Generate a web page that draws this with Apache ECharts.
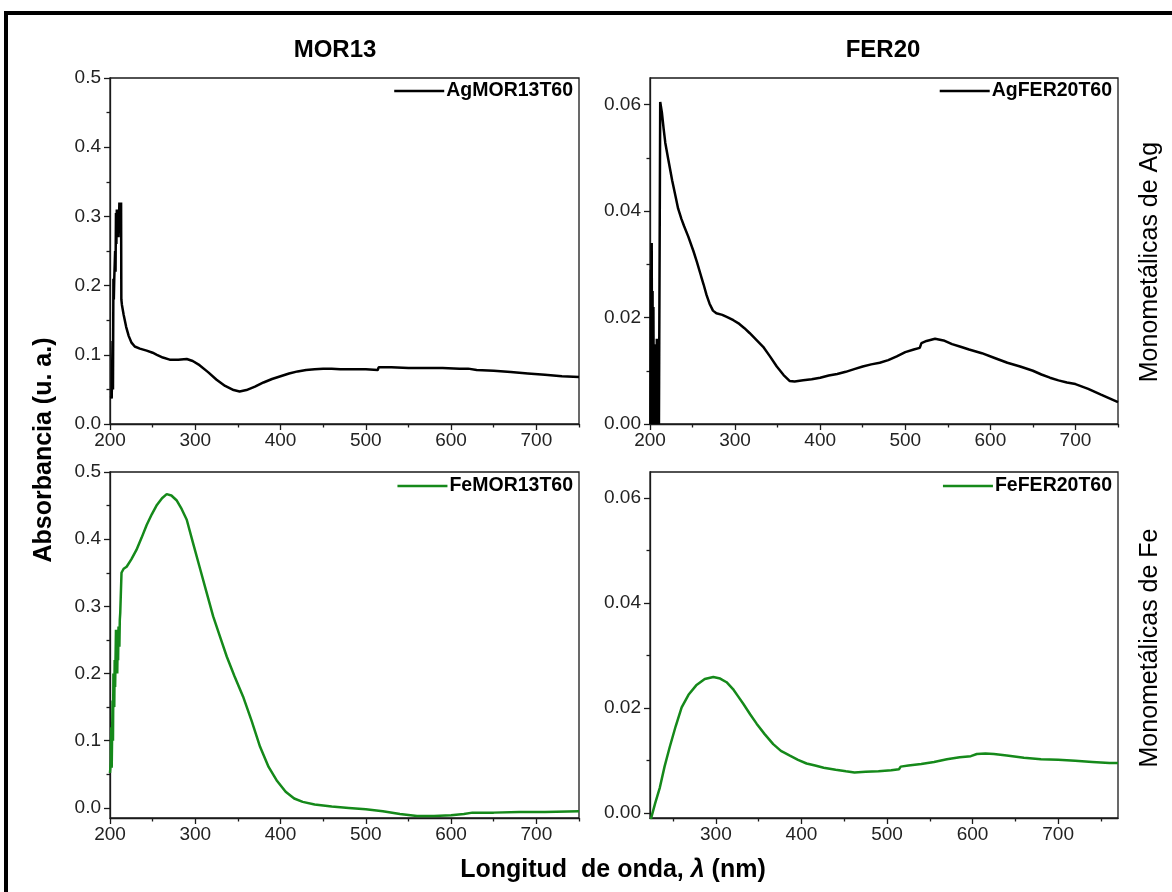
<!DOCTYPE html>
<html>
<head>
<meta charset="utf-8">
<script src="https://cdn.jsdelivr.net/npm/echarts@6/dist/echarts.min.js"></script>
<style>
html,body{margin:0;padding:0;background:#fff;}
#c{width:1172px;height:892px;}
</style>
</head>
<body>
<div id="c"></div>
<script>
// ---------- data ----------
const agMorX = [201,202,203,203.5,204,204.5,205,206,206.5,207,207.5,208,209,209.5,210,211,211.5,212,212.5,213,213.3,214,216,219,222,225,229,235,243,250,255,262,270,280,290,297,305,315,325,335,345,352,360,370,380,390,400,410,420,430,440,450,460,470,480,490,500,514,515,530,550,570,590,610,620,630,650,670,690,710,730,750];
const agMorY = [0.04,0.037,0.12,0.05,0.21,0.18,0.21,0.25,0.22,0.305,0.26,0.31,0.28,0.31,0.27,0.32,0.28,0.32,0.30,0.32,0.18,0.172,0.158,0.14,0.127,0.118,0.112,0.109,0.106,0.103,0.100,0.096,0.093,0.093,0.094,0.091,0.085,0.075,0.064,0.055,0.049,0.047,0.049,0.054,0.060,0.065,0.069,0.073,0.076,0.078,0.079,0.080,0.080,0.079,0.079,0.079,0.079,0.078,0.082,0.082,0.081,0.081,0.081,0.080,0.080,0.078,0.077,0.075,0.073,0.071,0.069,0.068];

const agFerX = [200.5,201,201.5,202,202.5,203,203.5,204,204.5,205,205.5,206,206.5,207,207.5,208,208.5,209,209.5,210,210.5,211.5,212,214,216,218,221.5,226,230,233,237,240,245,251,255,260,263,266.5,270,274,278,285,292,298,305,311,317,325,333,341,349,357,364,370,380,390,400,410,420,430,440,450,460,470,480,490,500,510,517,519,525,535,545,555,565,575,590,605,620,635,650,660,670,680,690,700,715,730,740,750];
const agFerY = [0,0.029,0,0.034,0.002,0.025,0,0.022,0,0.015,0,0.012,0,0.007,0,0.016,0,0.016,0,0.012,0,0,0.0605,0.0585,0.0555,0.0528,0.0497,0.0458,0.0428,0.0405,0.0385,0.0372,0.0352,0.0325,0.0305,0.0278,0.0262,0.0242,0.0226,0.0213,0.0208,0.0205,0.0200,0.0195,0.0188,0.0180,0.0171,0.0158,0.0145,0.0127,0.0108,0.0092,0.0081,0.0080,0.0082,0.0084,0.0087,0.0091,0.0094,0.0098,0.0103,0.0108,0.0112,0.0115,0.0120,0.0127,0.0135,0.0140,0.0143,0.0152,0.0156,0.0160,0.0157,0.0150,0.0145,0.0140,0.0133,0.0124,0.0115,0.0108,0.0100,0.0093,0.0087,0.0082,0.0078,0.0075,0.0066,0.0055,0.0048,0.0041];

const feMorX = [200,201,201.5,202,203,203.5,204,205,205.5,206,207,207.5,208,208.5,209,209.5,210,211,211.5,212,213,213.5,216,219.5,225,231,237,243,249,255,261,266.5,272,278,284,290,297,305,313,321,329,337,346,356,366,376,386,396,406,416,426,440,460,480,500,520,540,560,580,600,615,625,650,680,710,750];
const feMorY = [0.052,0.07,0.12,0.06,0.16,0.10,0.20,0.15,0.22,0.18,0.265,0.22,0.26,0.20,0.25,0.22,0.27,0.24,0.28,0.29,0.29,0.35,0.356,0.359,0.370,0.384,0.402,0.421,0.437,0.451,0.461,0.467,0.465,0.458,0.445,0.429,0.396,0.359,0.322,0.285,0.255,0.225,0.196,0.166,0.130,0.091,0.061,0.040,0.024,0.014,0.009,0.005,0.002,0.000,-0.002,-0.005,-0.009,-0.012,-0.012,-0.011,-0.009,-0.007,-0.007,-0.006,-0.006,-0.005];

const feFerX = [224,229,234.5,240,246,253,260,268,277,287,297,305,312.5,320,326,332,340,347.6,357,367,376,386.5,396,406,416,426,440,452,462,475,490,505,514,516,525,540,555,570,585,598,605,615,625,640,660,680,700,720,740,760,770];
const feFerY = [-0.0012,0.0018,0.0048,0.0088,0.0125,0.0165,0.0201,0.0225,0.0243,0.0255,0.0259,0.0256,0.0249,0.0236,0.0222,0.0208,0.0188,0.0170,0.0150,0.0131,0.0118,0.0109,0.0101,0.0094,0.0090,0.0086,0.0082,0.0079,0.0077,0.0078,0.0079,0.0081,0.0083,0.0088,0.0090,0.0093,0.0097,0.0102,0.0106,0.0108,0.0112,0.0113,0.0112,0.0109,0.0105,0.0102,0.0101,0.0099,0.0097,0.0095,0.0095];

// tick labels
const xTicksA = [200,300,400,500,600,700];
const xMinorA = [250,350,450,550,650,750];
const xTicksB = [300,400,500,600,700];
const xMinorB = [250,350,450,550,650,750];
const yTicksMor = [0,0.1,0.2,0.3,0.4,0.5];
const yMinorMor = [0.05,0.15,0.25,0.35,0.45];
const yTicksFer = [0,0.02,0.04,0.06];
const yMinorFer = [0.01,0.03,0.05];

const seriesNames = ['AgMOR13T60','AgFER20T60','FeMOR13T60','FeFER20T60'];
const colTitles = ['MOR13','FER20'];
const rowTitles = ['Monometálicas de Ag','Monometálicas de Fe'];

// ---------- layout ----------
const FONT = '"Liberation Sans", Arial, sans-serif';
const BLACK = '#000000';
const GREEN = '#15891a';
const grids = [
  {left:110, top:78, width:469, height:346},
  {left:650, top:78, width:468, height:346},
  {left:110, top:472, width:469, height:346},
  {left:650, top:472, width:468, height:346}
];
const xRanges = [[200,750],[200,750],[200,750],[223,770]];
const yRanges = [[0,0.5],[0,0.065],[-0.015,0.5],[-0.001,0.065]];
const xMajor = [xTicksA,xTicksA,xTicksA,xTicksB];
const xMinor = [xMinorA,xMinorA,xMinorA,xMinorB];
const yMajor = [yTicksMor,yTicksFer,yTicksMor,yTicksFer];
const yMinor = [yMinorMor,yMinorFer,yMinorMor,yMinorFer];
const yDigits = [1,2,1,2];

const axisLineStyle = {color:'#1a1a1a', width:1.3};
const xAxis = [], yAxis = [];
for (let i=0;i<4;i++){
  xAxis.push({
    gridIndex:i, type:'value', position:'bottom', min:xRanges[i][0], max:xRanges[i][1],
    axisLine:{show:true, onZero:false, lineStyle:axisLineStyle},
    axisTick:{show:true, customValues:xMajor[i], length:6, lineStyle:axisLineStyle},
    axisLabel:{show:true, customValues:xMajor[i], margin:7, fontSize:19, color:'#222', fontFamily:FONT},
    splitLine:{show:false}
  });
  xAxis.push({
    gridIndex:i, type:'value', position:'bottom', min:xRanges[i][0], max:xRanges[i][1],
    axisLine:{show:false, onZero:false},
    axisTick:{show:true, customValues:xMinor[i], length:3.5, lineStyle:axisLineStyle},
    axisLabel:{show:false}, splitLine:{show:false}
  });
  const d = yDigits[i];
  yAxis.push({
    gridIndex:i, type:'value', position:'left', min:yRanges[i][0], max:yRanges[i][1],
    axisLine:{show:true, onZero:false, lineStyle:axisLineStyle},
    axisTick:{show:true, customValues:yMajor[i], length:6, lineStyle:axisLineStyle},
    axisLabel:{show:true, customValues:yMajor[i], margin:9, fontSize:19, color:'#222', fontFamily:FONT,
      formatter:(v)=>Number(v).toFixed(d)},
    splitLine:{show:false}
  });
  yAxis.push({
    gridIndex:i, type:'value', position:'left', min:yRanges[i][0], max:yRanges[i][1],
    axisLine:{show:false, onZero:false},
    axisTick:{show:true, customValues:yMinor[i], length:3.5, lineStyle:axisLineStyle},
    axisLabel:{show:false}, splitLine:{show:false}
  });
}

function zip(xs, ys){ return xs.map((x,k)=>[x, ys[k]]); }
const seriesData = [zip(agMorX,agMorY), zip(agFerX,agFerY), zip(feMorX,feMorY), zip(feFerX,feFerY)];
const colors = [BLACK,BLACK,GREEN,GREEN];
const series = seriesData.map((data,i)=>({
  name:seriesNames[i], type:'line', xAxisIndex:2*i, yAxisIndex:2*i, data:data,
  showSymbol:false, symbol:'none', clip:true, color:colors[i],
  lineStyle:{color:colors[i], width:2.5}, emphasis:{disabled:true}, z:3
}));

const legendPos = [
  {right:599, top:81},
  {right:60, top:81},
  {right:599, top:476},
  {right:60, top:476}
];
const legend = seriesNames.map((n,i)=>({
  data:[n], right:legendPos[i].right, top:legendPos[i].top, padding:0,
  icon:'rect', itemWidth:50, itemHeight:2.5, itemGap:4,
  selectedMode:false,
  textStyle:{fontSize:19.5, fontWeight:'bold', color:'#000', fontFamily:FONT, padding:[0,0,0,-3]}
}));

const graphic = [
  {type:'rect', shape:{x:6, y:13, width:1180, height:900}, style:{fill:'none', stroke:'#000', lineWidth:4}, silent:true},
  {type:'text', x:335, y:50, style:{text:colTitles[0], font:'bold 24px '+FONT, fill:'#000', textAlign:'center', textVerticalAlign:'middle'}},
  {type:'text', x:883, y:50, style:{text:colTitles[1], font:'bold 24px '+FONT, fill:'#000', textAlign:'center', textVerticalAlign:'middle'}},
  {type:'text', x:44, y:450, rotation:Math.PI/2, style:{text:'Absorbancia (u. a.)', font:'bold 25px '+FONT, fill:'#000', textAlign:'center', textVerticalAlign:'middle'}},
  {type:'text', x:1150, y:262, rotation:Math.PI/2, style:{text:rowTitles[0], font:'25px '+FONT, fill:'#000', textAlign:'center', textVerticalAlign:'middle'}},
  {type:'text', x:1150, y:648, rotation:Math.PI/2, style:{text:rowTitles[1], font:'25px '+FONT, fill:'#000', textAlign:'center', textVerticalAlign:'middle'}},
  {type:'text', x:613, y:870, style:{text:'Longitud  de onda, {i|λ} (nm)', font:'bold 25px '+FONT, fill:'#000', textAlign:'center', textVerticalAlign:'middle',
    rich:{i:{fontStyle:'italic', fontWeight:'bold', fontSize:25, fontFamily:FONT, fill:'#000'}}}}
];

const chart = echarts.init(document.getElementById('c'), null, {renderer:'canvas'});
chart.setOption({
  animation:false,
  backgroundColor:'#ffffff',
  grid: grids.map(g=>Object.assign({show:true, borderColor:'#1a1a1a', borderWidth:1.3, backgroundColor:'transparent', containLabel:false}, g)),
  xAxis:xAxis, yAxis:yAxis, series:series, legend:legend, graphic:graphic,
  tooltip:{show:false}
});
</script>
</body>
</html>
